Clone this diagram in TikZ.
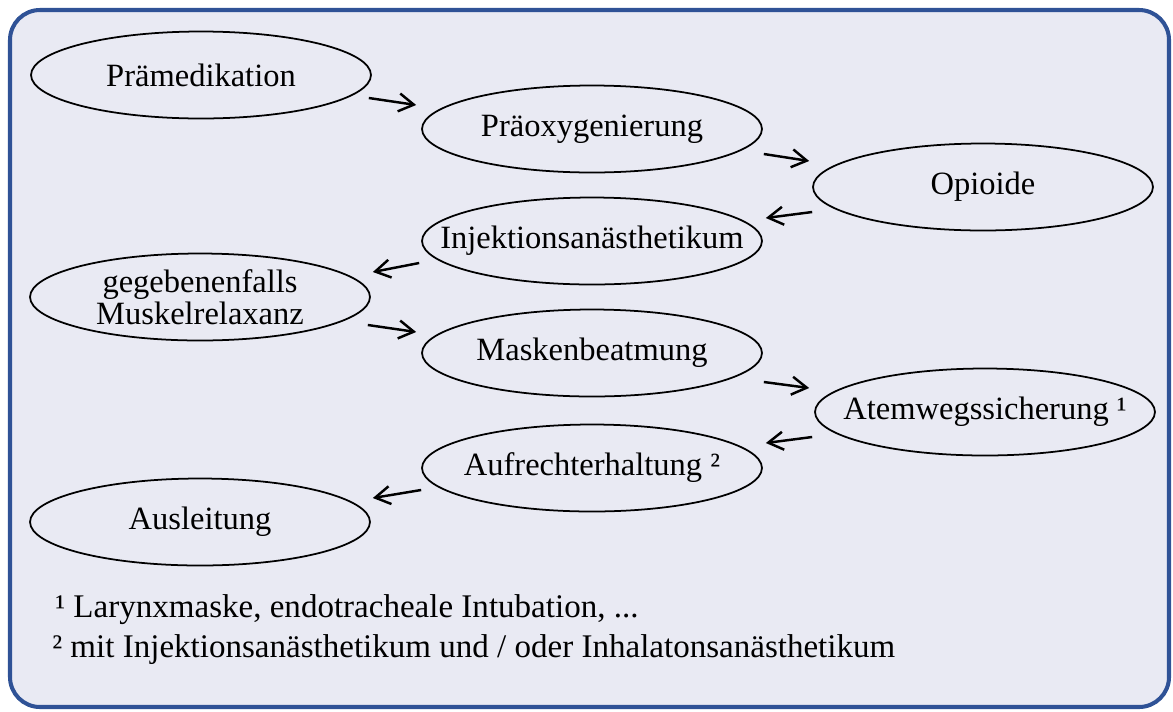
\documentclass[tikz,border=0pt]{standalone}
\usepackage{fontspec}
\setmainfont{Liberation Serif}
\usepackage{tikz}
\usetikzlibrary{shapes.geometric,arrows.meta,calc}
\definecolor{framecol}{RGB}{47,82,150}
\definecolor{panelcol}{RGB}{233,234,243}

\begin{document}
\begin{tikzpicture}[
    x=0.02cm, y=-0.02cm,
    phase/.style={ellipse, draw=black, line width=1pt, inner xsep=-1.4cm, inner ysep=-0.4cm,
                  minimum width=6.8cm, minimum height=1.74cm, align=center,
                  font=\fontsize{18.5}{18.5}\selectfont},
    note/.style={anchor=base west, inner sep=0pt, font=\fontsize{18.8}{22}\selectfont},
    arrow/.style={-{Straight Barb[length=0.3cm,width=0.36cm]}, line width=1.4pt}
]
\useasboundingbox (0,0) rectangle (1173,711);
\draw[framecol, fill=panelcol, line width=2.3pt, rounded corners=0.6cm] (10,10) rectangle (1169,707);

\node[phase] (pre) at (201,75) {Prämedikation};
\node[phase] (prox) at (592,129) {Präoxygenierung};
\node[phase] (opi) at (983,187) {Opioide};
\node[phase] (inj) at (592,241) {Injektionsanästhetikum};
\node[phase] (relax) at (200,297) {gegebenenfalls\\Muskelrelaxanz};
\node[phase] (mask) at (592,353) {Maskenbeatmung};
\node[phase] (airway) at (985,412) {Atemwegssicherung ¹};
\node[phase] (maint) at (592,468) {Aufrechterhaltung ²};
\node[phase] (exit) at (200,522) {Ausleitung};

\node[note] (fn1) at (55,617) {¹ Larynxmaske, endotracheale Intubation, ...};
\node[note] (fn2) at (52,657) {² mit Injektionsanästhetikum und / oder Inhalatonsanästhetikum};

\draw[arrow] ($(pre.east)+(-3,23)$) -- ($(prox.west)+(-5,-24)$);
\draw[arrow] ($(prox.east)+(1,25)$) -- ($(opi.west)+(-3,-26)$);
\draw[arrow] ($(opi.west)+(0,25)$) -- ($(inj.east)+(3,-23)$);
\draw[arrow] ($(inj.west)+(-2,22)$) -- ($(relax.east)+(2,-25)$);
\draw[arrow] ($(relax.east)+(-3,28)$) -- ($(mask.west)+(-5,-21)$);
\draw[arrow] ($(mask.east)+(1,29)$) -- ($(airway.west)+(-5,-24)$);
\draw[arrow] ($(airway.west)+(-2,25)$) -- ($(maint.east)+(3,-25)$);
\draw[arrow] ($(maint.west)+(0,22)$) -- ($(exit.east)+(2,-24)$);
\end{tikzpicture}
\end{document}
